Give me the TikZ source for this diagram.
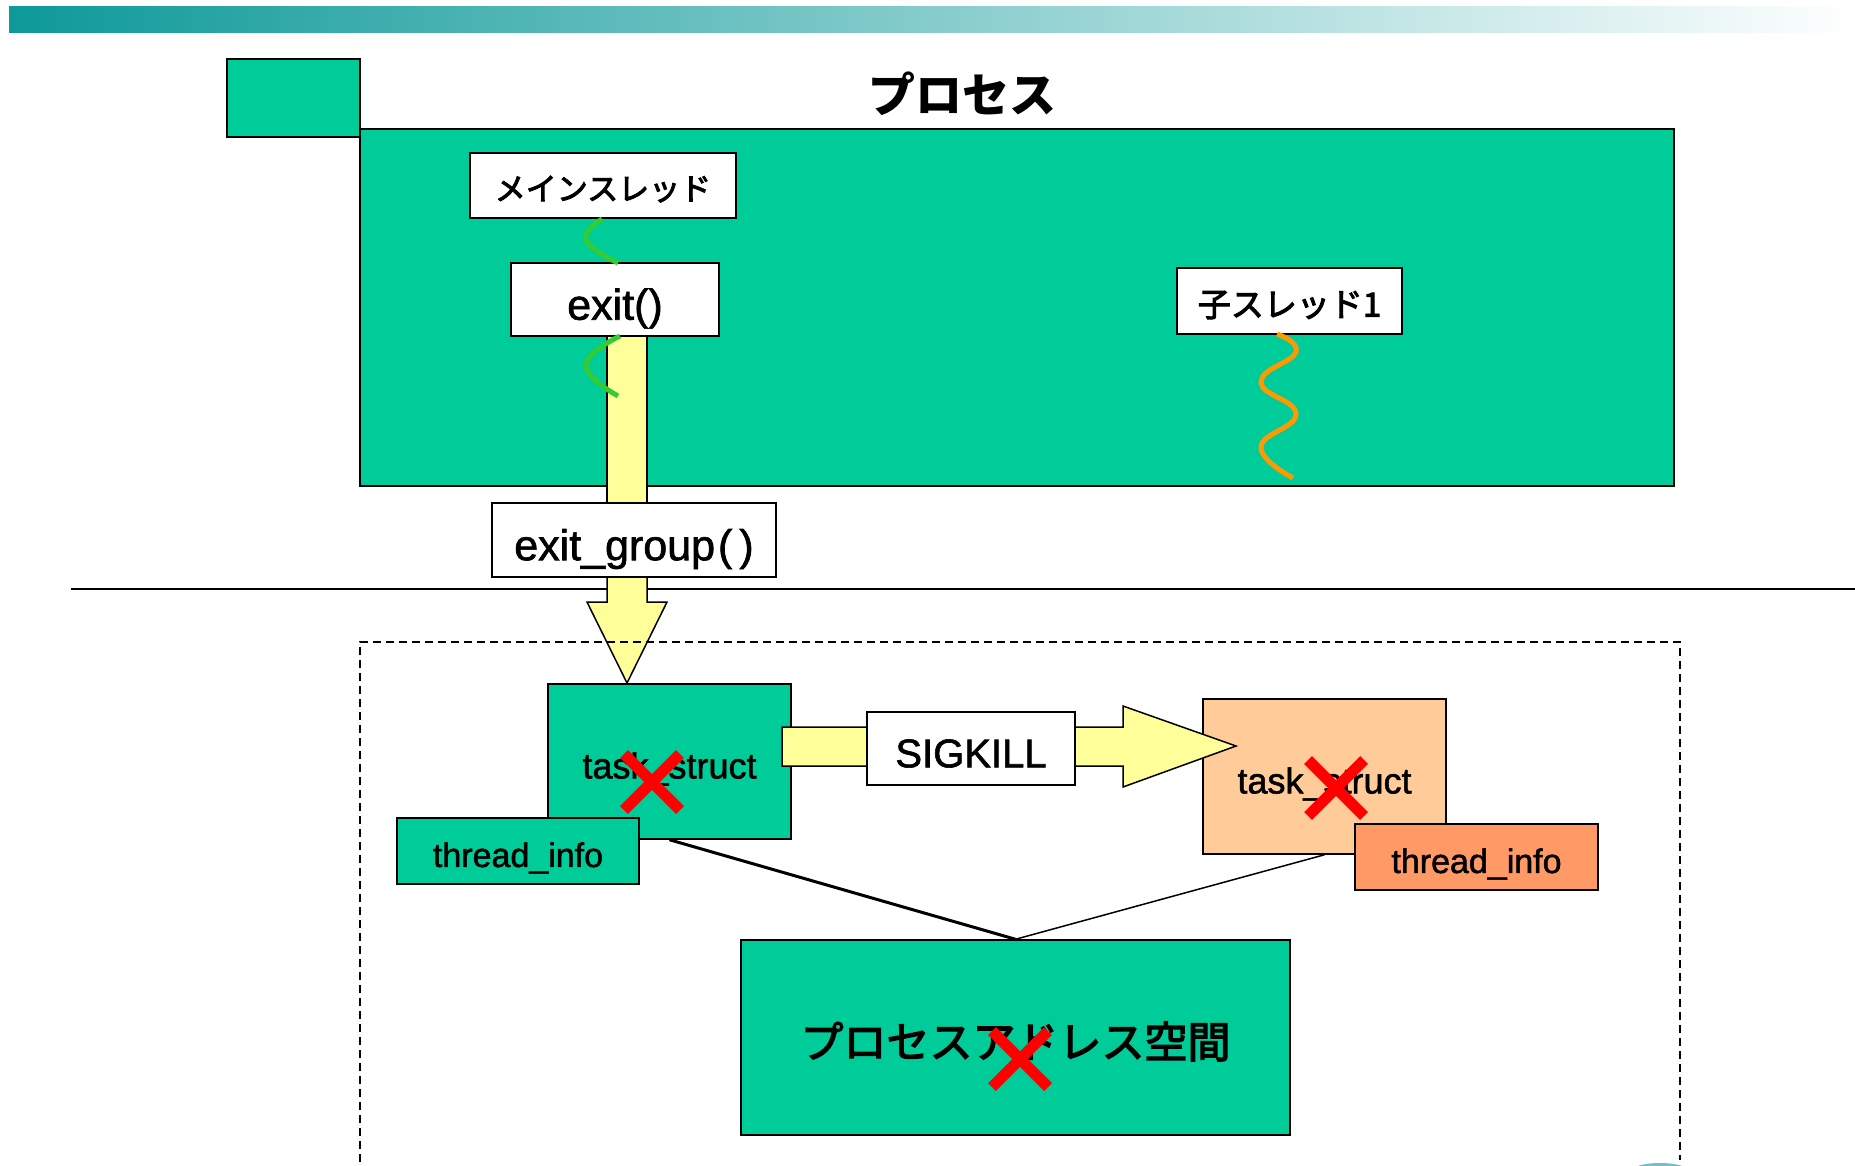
\documentclass[tikz,border=0pt]{standalone}
\usepackage{fontspec}
\setmainfont{Liberation Sans}[FakeBold=1.5]
\newfontfamily\jp{Noto Sans CJK JP}
\newfontfamily\jpm{Noto Sans CJK JP}[FakeBold=3]
\usetikzlibrary{calc}
\definecolor{pgreen}{HTML}{00CC99}
\definecolor{yel}{HTML}{FFFF99}
\definecolor{peach}{HTML}{FFCC99}
\definecolor{orng}{HTML}{FF9966}
\definecolor{wgreen}{HTML}{33CC33}
\definecolor{worange}{HTML}{FF9900}
\definecolor{teala}{HTML}{0E9999}
\definecolor{tealm}{HTML}{A9CDCD}
\newcommand\ctxt[1]{\raisebox{-0.47em}{#1}}
\tikzset{
  box/.style={draw=black, line width=1.5pt, fill=white, inner sep=0pt, text=black, text height=0pt, text depth=0pt},
  gbox/.style={box, fill=pgreen},
  yshape/.style={draw=black, line width=1.5pt, fill=yel},
  wave/.style={line width=5pt, line cap=butt},
  redx/.style={draw=red, line width=11pt, line cap=butt},
  lat/.style={font=\fontsize{#1}{#1}\selectfont},
  jpt/.style={font=\jpm\fontsize{#1}{#1}\selectfont},
}
\begin{document}
\begin{tikzpicture}[x=1pt,y=-1pt]
\useasboundingbox (0,0) rectangle (1855,1165);
\fill[white] (0,0) rectangle (1855,1165);
% top gradient bar
\shade[left color=teala, middle color=tealm, right color=white] (9,6) rectangle (1855,32);
% process
\node[gbox, minimum width=133pt, minimum height=78pt] (tab) at (293.5,98) {};
\node[gbox, line width=2pt, minimum width=1314pt, minimum height=357pt] (proc) at (1017,307.5) {};
\node[font=\jp\bfseries\fontsize{47}{50}\selectfont] (title) at (962,94) {プロセス};
% yellow shaft through exit()
\draw[yshape] (607,300) rectangle (647,503);
\node[box, jpt=31, minimum width=266pt, minimum height=65pt] (mainth) at (603,185.5) {\ctxt{メインスレッド}};
\node[box, lat=43, minimum width=208pt, minimum height=73pt] (exitb) at (615,299.5) {\ctxt{exit()}};
\node[box, jpt=33, minimum width=225pt, minimum height=66pt] (child) at (1289.5,301) {\ctxt{子スレッド1}};
% thread waves
\draw[wave, wgreen] plot[smooth, tension=0.8] coordinates {(602,219) (586,240) (618,263)};
\draw[wave, wgreen] plot[smooth, tension=0.8] coordinates {(620,336) (586,365) (618,396)};
\draw[wave, worange] plot[smooth, tension=0.8] coordinates {(1277,334) (1296,352) (1261,382) (1296,414) (1261,447) (1293,478)};
% kernel boundary
\draw[line width=1.5pt] (71,589) -- (1855,589);
% exit_group arrow
\draw[yshape] (607,577) -- (647,577) -- (647,602) -- (667,602) -- (627,683) -- (587,602) -- (607,602) -- cycle;
\node[box, lat=43, minimum width=284pt, minimum height=74pt] (exitg) at (634,540) {\ctxt{exit\_group\hspace{3pt}(\hspace{7pt})}};
% dashed kernel region
\draw[line width=1.5pt, dash pattern=on 8pt off 5pt] (360,1175) -- (360,642) -- (1680,642) -- (1680,1160);
% task structs
\node[gbox, lat=36, minimum width=243pt, minimum height=155pt] (lt) at (669.5,761.5) {\ctxt{task\_struct}};
\node[gbox, lat=34, minimum width=242pt, minimum height=66pt] (lti) at (518,851) {\ctxt{thread\_info}};
\node[box, fill=peach, lat=36, minimum width=243pt, minimum height=155pt] (ot) at (1324.5,776.5) {\ctxt{task\_struct}};
\node[box, fill=orng, lat=34, minimum width=243pt, minimum height=66pt] (oti) at (1476.5,857) {\ctxt{thread\_info}};
% address space
\node[gbox, jpt=43, minimum width=549pt, minimum height=195pt] (addr) at (1015.5,1037.5) {\ctxt{プロセスアドレス空間}};
\draw[line width=3pt] (lt.south) -- (addr.north);
\draw[line width=1.5pt] (ot.south) -- (addr.north);
% SIGKILL arrow
\draw[yshape] (782,727) -- (1123,727) -- (1123,706) -- (1236,746) -- (1123,787) -- (1123,766) -- (782,766) -- cycle;
\node[box, lat=40, minimum width=208pt, minimum height=73pt] (sig) at (971,748.5) {\ctxt{SIGKILL}};
% red crosses
\draw[redx] (624,754) -- (680,810) (680,754) -- (624,810);
\draw[redx] (1308,760) -- (1364,816) (1364,760) -- (1308,816);
\draw[redx] (992,1031) -- (1048,1087) (1048,1031) -- (992,1087);
% cut-off teal shape at bottom
\fill[teala!60] (1660,1172) ellipse [x radius=30pt, y radius=9pt];
\end{tikzpicture}
\end{document}
